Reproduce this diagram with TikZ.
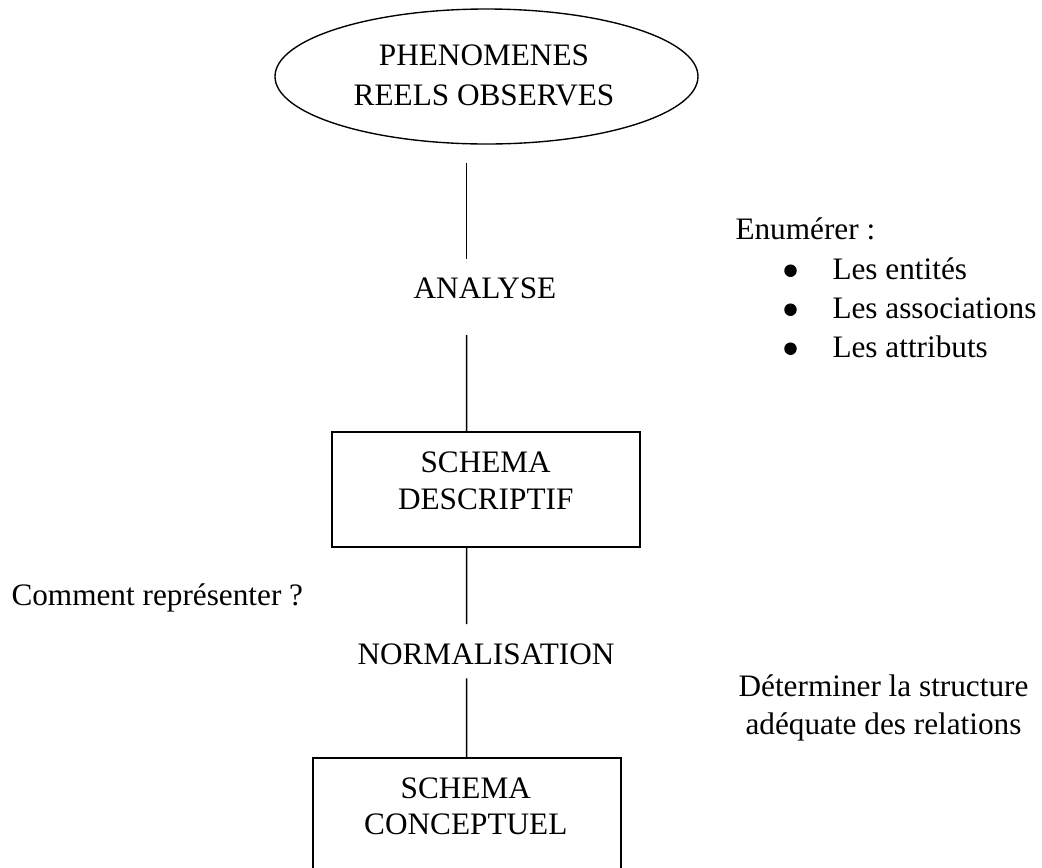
\documentclass[tikz,border=0pt]{standalone}
\usepackage{fontspec}
\setmainfont{Liberation Serif}
\usetikzlibrary{shapes.geometric}
\begin{document}
\begin{tikzpicture}[x=0.4pt,y=-0.4pt,
  txt/.style={inner sep=0pt,font=\fontsize{12.5}{15.6}\selectfont},
  dot/.style={circle,fill,inner sep=0pt,minimum size=5pt},
  link/.style={line width=0.6pt},
  frame/.style={draw,line width=0.7pt,inner sep=0pt}]
\useasboundingbox (0,0) rectangle (1042,868);

% ellipse and boxes of the chain (multi-line texts sit on their last baseline)
\node[frame,line width=0.55pt,ellipse,minimum width=169.2pt,minimum height=54pt] (ph) at (486.5,76.5) {};
\node[txt,align=center,anchor=base,font=\fontsize{12.5}{16}\selectfont] (phT) at (484,105) {PHENOMENES\\REELS OBSERVES};

\node[txt,anchor=base] (an) at (485,298.3) {ANALYSE};

\node[frame,minimum width=123.08pt,minimum height=46.24pt] (d1) at (486.15,489.5) {};
\node[txt,align=center,anchor=base,font=\fontsize{12.5}{14.6}\selectfont] (d1T) at (485.7,509.3) {SCHEMA\\DESCRIPTIF};

\node[txt,anchor=base] (no) at (486,664.5) {NORMALISATION};

\node[frame,minimum width=123.08pt,minimum height=45.48pt] (d2) at (467.15,815.15) {};
\node[txt,align=center,anchor=base,font=\fontsize{12.5}{14.4}\selectfont] (d2T) at (465.8,834.3) {SCHEMA\\CONCEPTUEL};

% connectors
\draw[link] ([shift={(-19.8,18.7)}]ph.south) -- ([shift={(-18.3,-39)}]an.base);
\draw[link] ([shift={(-18.3,36.7)}]an.base) -- ([shift={(-19.45,0)}]d1.north);
\draw[link] ([shift={(-19.45,0)}]d1.south) -- ([shift={(-19.3,-40.5)}]no.base);
\draw[link] ([shift={(-19.3,13.8)}]no.base) -- ([shift={(-0.45,0)}]d2.north);

% side notes
\node[txt,anchor=base west] (en) at (735,239.3) {Enumérer :};
\node[dot] (b1) at (790.5,270.7) {};
\node[dot] (b2) at (790.5,309.7) {};
\node[dot] (b3) at (790.5,348.7) {};
\node[txt,anchor=base west] (l1) at (832,279.3) {Les entités};
\node[txt,anchor=base west] (l2) at (832,318.3) {Les associations};
\node[txt,anchor=base west] (l3) at (832,357.3) {Les attributs};

\node[txt,anchor=base west] (cr) at (11,605) {Comment représenter ?};

\node[txt,align=center,anchor=base,font=\fontsize{12.5}{15}\selectfont] (dt) at (883.5,734.3) {Déterminer la structure\\adéquate des relations};
\end{tikzpicture}
\end{document}
